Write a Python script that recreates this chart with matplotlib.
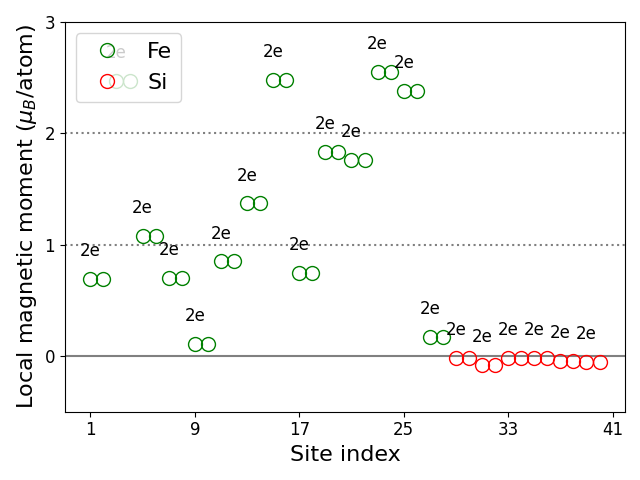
import matplotlib.pyplot as plt

# site indices and local moments (mu_B/atom)
fe_sites = list(range(1, 29))
fe_moments = [0.69, 0.69, 2.47, 2.47, 1.08, 1.08, 0.70, 0.70, 0.11, 0.11,
              0.85, 0.85, 1.37, 1.37, 2.48, 2.48, 0.75, 0.75, 1.83, 1.83,
              1.76, 1.76, 2.55, 2.55, 2.38, 2.38, 0.17, 0.17]
si_sites = list(range(29, 41))
si_moments = [-0.02, -0.02, -0.08, -0.08, -0.02, -0.02, -0.02, -0.02,
              -0.04, -0.04, -0.05, -0.05]
wyckoff = "2e"

fig, ax = plt.subplots(figsize=(6.4, 4.8))

ax.axhline(0, color='grey', linestyle='-', zorder=1)
ax.axhline(1, color='grey', linestyle=':', zorder=1)
ax.axhline(2, color='grey', linestyle=':', zorder=1)

ax.plot(fe_sites, fe_moments, 'o', mfc='none', mec='green', markersize=10, label='Fe', zorder=3)
ax.plot(si_sites, si_moments, 'o', mfc='none', mec='red', markersize=10, label='Si', zorder=3)

# one label per pair of equivalent sites
sites = fe_sites + si_sites
moments = fe_moments + si_moments
for k in range(0, len(sites), 2):
    ax.text(sites[k], moments[k] + 0.25, wyckoff, ha='center', va='center', fontsize=12)

ax.set_ylim(-0.5, 3)
ax.set_xticks(range(1, 42, 8))
ax.set_yticks([0, 1, 2, 3])
ax.tick_params(labelsize=12)
ax.set_xlabel("Site index", fontsize=16)
ax.set_ylabel(r"Local magnetic moment ($\mu_B$/atom)", fontsize=16)
ax.legend(loc='upper left', fontsize=16)

plt.tight_layout()
plt.savefig("out.png", dpi=100)
